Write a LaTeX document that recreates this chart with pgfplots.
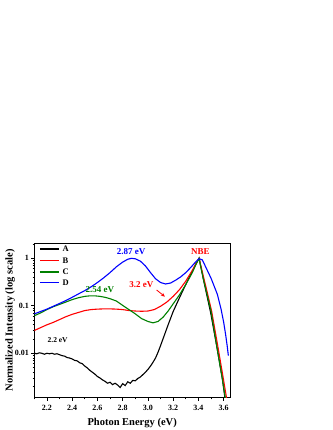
\documentclass[border=0pt]{standalone}
\usepackage{fontspec}
\setmainfont{Liberation Serif}
\usepackage{pgfplots}
\pgfplotsset{compat=1.18}
\usetikzlibrary{arrows.meta}

\definecolor{cgreen}{RGB}{0,128,0}

\begin{document}
\begin{tikzpicture}
\path[use as bounding box] (-34.3pt,-32.3pt) rectangle (297.7pt,397.7pt);
\begin{axis}[
    scale only axis,
    width=195.7pt,
    height=154.4pt,
    ymode=log,
    xmin=2.1, xmax=3.65,
    ymin=0.00116, ymax=2.07,
    axis line style={line width=0.8pt},
    tick style={black, line width=0.7pt},
    tick align=outside,
    xtick pos=bottom, ytick pos=left,
    major tick length=3pt,
    minor tick length=1.6pt,
    xtick={2.2,2.4,2.6,2.8,3.0,3.2,3.4,3.6},
    xticklabels={2.2,2.4,2.6,2.8,3.0,3.2,3.4,3.6},
    minor xtick={2.1,2.3,2.5,2.7,2.9,3.1,3.3,3.5},
    ytick={0.01,0.1,1},
    yticklabels={0.01,0.1,1},
    minor ytick={0.002,0.003,0.004,0.005,0.006,0.007,0.008,0.009,0.02,0.03,0.04,0.05,0.06,0.07,0.08,0.09,0.2,0.3,0.4,0.5,0.6,0.7,0.8,0.9,2},
    /pgf/number format/assume math mode=true,
    every tick label/.append style={font=\bfseries\fontsize{8}{9}\selectfont},
    xticklabel style={yshift=-1pt},
    yticklabel style={xshift=1pt},
    xlabel={Photon Energy (eV)},
    ylabel={Normalized Intensity (log scale)},
    every axis x label/.style={at={(axis description cs:0.5,-0.162)}, anchor=center, font=\bfseries\fontsize{10.5}{12}\selectfont},
    every axis y label/.style={at={(axis description cs:-0.124,0.5)}, anchor=center, rotate=90, font=\bfseries\fontsize{10.5}{12}\selectfont},
]
% A
\addplot[black, line width=1.1pt] coordinates {
(2.10,0.0100)(2.12,0.00977)(2.14,0.01023)(2.16,0.0100)(2.18,0.00955)(2.20,0.0100)
(2.22,0.00977)(2.24,0.0100)(2.26,0.00955)(2.28,0.00977)(2.30,0.00933)(2.32,0.00891)
(2.34,0.00871)(2.36,0.00813)(2.38,0.00794)(2.40,0.00759)(2.42,0.00708)(2.44,0.00692)
(2.46,0.00631)(2.48,0.00603)(2.50,0.00537)(2.52,0.00490)(2.54,0.00437)(2.56,0.00398)
(2.58,0.00363)(2.60,0.00324)(2.62,0.00302)(2.64,0.00275)(2.66,0.00257)(2.68,0.00234)
(2.70,0.00245)(2.72,0.00219)(2.74,0.00234)(2.76,0.00214)(2.78,0.00191)(2.80,0.00229)
(2.82,0.00209)(2.84,0.00251)(2.86,0.00234)(2.88,0.00269)(2.90,0.00263)(2.92,0.00295)
(2.94,0.00316)(2.96,0.00355)(2.98,0.00398)(3.00,0.00457)(3.02,0.00537)(3.04,0.00646)
(3.06,0.00794)(3.08,0.0105)(3.10,0.0145)(3.13,0.0240)(3.16,0.0398)(3.20,0.0759)
(3.25,0.148)(3.30,0.282)(3.35,0.525)(3.38,0.759)(3.405,1.0)(3.44,0.355)
(3.497,0.0708)(3.545,0.0141)(3.59,0.00282)(3.612,0.00105)
};
% B
\addplot[red, line width=1.1pt] coordinates {
(2.10,0.0302)(2.15,0.0347)(2.20,0.0398)(2.25,0.0447)(2.30,0.0513)(2.35,0.0589)
(2.40,0.0661)(2.45,0.0724)(2.50,0.0794)(2.55,0.0832)(2.60,0.0851)(2.65,0.0861)
(2.70,0.0861)(2.75,0.0851)(2.80,0.0832)(2.85,0.0794)(2.90,0.0776)(2.95,0.0767)
(3.00,0.0776)(3.05,0.0832)(3.10,0.0977)(3.15,0.120)(3.20,0.158)(3.25,0.219)
(3.30,0.331)(3.35,0.550)(3.38,0.776)(3.405,1.0)(3.44,0.407)(3.47,0.1905)
(3.505,0.0759)(3.552,0.0148)(3.597,0.00295)(3.625,0.00105)
};
% C
\addplot[cgreen, line width=1.1pt] coordinates {
(2.10,0.0617)(2.15,0.0708)(2.20,0.0832)(2.25,0.0955)(2.30,0.107)(2.35,0.120)
(2.40,0.135)(2.45,0.148)(2.50,0.158)(2.54,0.162)(2.58,0.162)(2.62,0.158)
(2.66,0.151)(2.70,0.141)(2.75,0.126)(2.80,0.102)(2.85,0.0832)(2.90,0.0676)
(2.95,0.0537)(3.00,0.0468)(3.04,0.0437)(3.08,0.0468)(3.12,0.0575)(3.16,0.0776)
(3.20,0.110)(3.25,0.170)(3.30,0.282)(3.35,0.490)(3.38,0.741)(3.405,1.0)
(3.44,0.355)(3.47,0.166)(3.50,0.0759)(3.545,0.0141)(3.59,0.00282)(3.615,0.00105)
};
% D
\addplot[blue, line width=1.1pt] coordinates {
(2.10,0.0676)(2.15,0.0759)(2.20,0.0851)(2.25,0.0977)(2.30,0.112)(2.35,0.129)
(2.40,0.151)(2.45,0.178)(2.50,0.209)(2.55,0.251)(2.60,0.309)(2.65,0.389)
(2.70,0.501)(2.75,0.661)(2.80,0.832)(2.84,0.955)(2.87,1.0)(2.90,0.977)
(2.94,0.871)(2.98,0.692)(3.02,0.501)(3.06,0.372)(3.10,0.309)(3.14,0.288)
(3.18,0.302)(3.22,0.347)(3.26,0.407)(3.30,0.501)(3.34,0.646)(3.38,0.851)
(3.405,0.98)(3.43,0.93)(3.45,0.724)(3.50,0.380)(3.55,0.174)(3.58,0.0832)
(3.60,0.0447)(3.615,0.0251)(3.628,0.0141)(3.637,0.00891)
};

% legend
\draw[black, line width=1.2pt] (axis description cs:0.029,0.963) -- (axis description cs:0.128,0.963);
\draw[red, line width=1.2pt] (axis description cs:0.029,0.887) -- (axis description cs:0.128,0.887);
\draw[cgreen, line width=1.2pt] (axis description cs:0.029,0.814) -- (axis description cs:0.128,0.814);
\draw[blue, line width=1.2pt] (axis description cs:0.029,0.745) -- (axis description cs:0.128,0.745);
\node[anchor=west, inner sep=0pt, font=\bfseries\fontsize{8.5}{9}\selectfont] at (axis description cs:0.144,0.963) {A};
\node[anchor=west, inner sep=0pt, font=\bfseries\fontsize{8.5}{9}\selectfont] at (axis description cs:0.144,0.887) {B};
\node[anchor=west, inner sep=0pt, font=\bfseries\fontsize{8.5}{9}\selectfont] at (axis description cs:0.144,0.814) {C};
\node[anchor=west, inner sep=0pt, font=\bfseries\fontsize{8.5}{9}\selectfont] at (axis description cs:0.144,0.745) {D};

\node[font=\bfseries\fontsize{9}{10}\selectfont, text=blue] at (axis cs:2.866,1.377) {2.87 eV};
\node[font=\bfseries\fontsize{9}{10}\selectfont, text=red] at (axis cs:3.416,1.358) {NBE};
\node[font=\bfseries\fontsize{9}{10}\selectfont, text=cgreen] at (axis cs:2.62,0.215) {2.54 eV};
\node[font=\bfseries\fontsize{9}{10}\selectfont, text=red] at (axis cs:2.949,0.285) {3.2 eV};
\node[font=\bfseries\fontsize{7.5}{9}\selectfont] at (axis cs:2.285,0.019) {2.2 eV};
\draw[-{Stealth[length=4pt,width=3.5pt]}, red, line width=0.8pt] (axis cs:3.069,0.215) -- (axis cs:3.135,0.1555);
\end{axis}
\end{tikzpicture}
\end{document}
